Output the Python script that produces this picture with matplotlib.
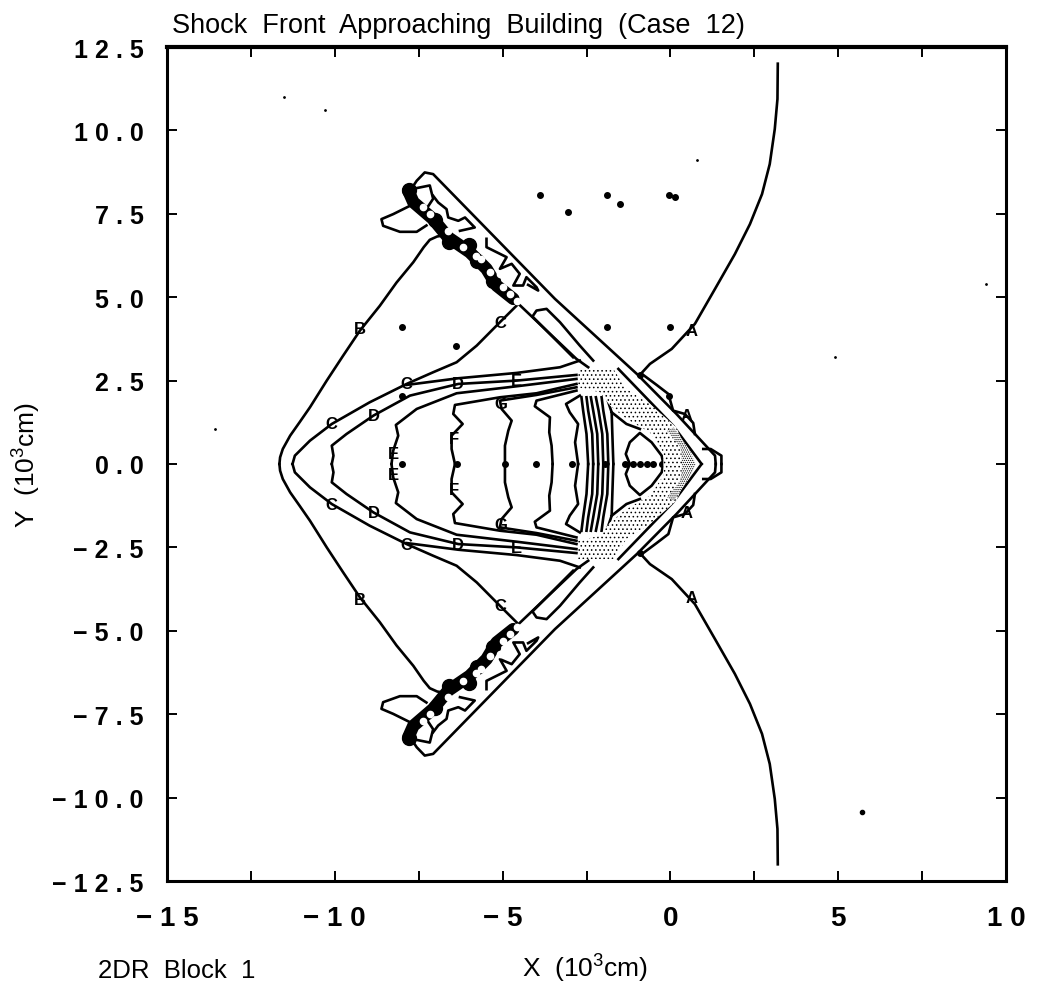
"""
Shock front contour plot, redrawn from a scanned report figure.
Only the upper half of each contour is listed, the lower half is its mirror.
"""

import matplotlib
matplotlib.use("Agg")
import matplotlib.pyplot as plt

plt.rcParams["font.family"] = ["Liberation Sans", "DejaVu Sans"]
plt.rcParams["mathtext.default"] = "regular"
plt.rcParams["hatch.linewidth"] = 0.6

# tick labels
x_tick_values = [-15, -12.5, -10, -7.5, -5, -2.5, 0, 2.5, 5, 7.5, 10]
x_tick_labels = ["\u2212 1 5", "", "\u2212 1 0", "", "\u2212 5", "", "0", "", "5", "", "1 0"]
y_tick_values = [12.5, 10, 7.5, 5, 2.5, 0, -2.5, -5, -7.5, -10, -12.5]
y_tick_labels = ["1 2 . 5", "1 0 . 0", "7 . 5", "5 . 0", "2 . 5", "0 . 0",
                 "\u2212 2 . 5", "\u2212 5 . 0", "\u2212 7 . 5", "\u2212 1 0 . 0", "\u2212 1 2 . 5"]

# contours, (x, y) in 10^3 cm
curve_a = [(3.2, 12.0), (3.19, 10.94), (3.11, 10.04), (2.96, 8.99), (2.73, 8.09), (2.37, 7.19),
           (1.92, 6.29), (1.33, 5.25), (0.73, 4.2), (0.04, 3.45), (-0.61, 3.0), (-0.91, 2.67)]
curve_b = [(-11.65, 0), (-11.63, 0.2), (-11.55, 0.45), (-11.33, 0.85), (-11.05, 1.25),
           (-10.74, 1.7), (-10.24, 2.5), (-9.75, 3.25), (-9.25, 4.0), (-8.66, 4.74),
           (-8.16, 5.44), (-7.66, 6.05), (-7.35, 6.5), (-7.17, 6.72), (-6.95, 6.82), (-6.77, 6.85)]
curve_c = [(-11.26, 0), (-11.19, 0.25), (-10.74, 0.7), (-10.09, 1.2), (-8.96, 1.85),
           (-7.86, 2.4), (-7.07, 2.75), (-6.37, 3.05), (-5.77, 3.55), (-5.08, 4.25),
           (-4.58, 4.75)]
curve_c2 = [(-7.86, 2.37), (-6.32, 2.57), (-4.58, 2.73), (-3.29, 2.9), (-2.7, 3.1)]
curve_d = [(-10.09, 0), (-10.04, 0.25), (-10.09, 0.55), (-9.65, 0.9), (-8.85, 1.45),
           (-7.76, 2.05), (-6.32, 2.4), (-4.58, 2.5), (-2.8, 2.67)]
curve_e = [(-8.31, 0), (-8.26, 0.4), (-8.11, 0.85), (-8.18, 1.17), (-7.56, 1.65),
           (-6.37, 2.12), (-4.58, 2.33), (-2.8, 2.55)]
curve_f = [(-6.42, 0), (-6.52, 0.45), (-6.52, 0.85), (-6.19, 1.2), (-6.47, 1.5),
           (-6.42, 1.77), (-5.08, 2.0), (-3.99, 2.12), (-2.8, 2.4)]
curve_g = [(-4.93, 0), (-4.93, 0.55), (-4.83, 1.0), (-4.73, 1.3), (-5.03, 1.65),
           (-5.08, 1.9), (-3.99, 2.07), (-2.8, 2.3)]
curve_h = [(-3.51, 0), (-3.54, 0.55), (-3.61, 0.95), (-3.59, 1.4), (-4.04, 1.73),
           (-3.99, 1.9), (-2.8, 2.2)]
curve_i = [(-2.75, 0), (-2.84, 0.65), (-2.75, 1.2), (-3.0, 1.55), (-3.11, 1.8), (-2.7, 2.05)]
curve_j1 = [(-2.45, 0), (-2.5, 0.9), (-2.6, 1.6), (-2.65, 2.0)]
curve_j2 = [(-2.3, 0), (-2.33, 0.9), (-2.45, 1.6), (-2.5, 2.0)]
curve_j3 = [(-2.15, 0), (-2.18, 0.9), (-2.3, 1.6), (-2.37, 2.0)]
curve_j4 = [(-2.0, 0), (-2.03, 0.9), (-2.14, 1.6), (-2.22, 2.0)]
curve_j5 = [(-1.85, 0), (-1.88, 0.9), (-2.0, 1.6), (-2.05, 2.0)]
curve_j6 = [(-1.7, 0), (-1.73, 0.9), (-1.75, 1.55), (-1.9, 2.0)]
lens = [(-1.21, 0), (-1.33, 0.3), (-1.21, 0.65), (-0.91, 0.93), (-0.56, 0.65),
        (-0.26, 0.25), (-0.21, 0)]
lobe = [(-1.75, 1.55), (-1.31, 1.2), (-0.91, 1.05)]
outer_wedge = [(-7.75, 8.2), (-7.56, 8.49), (-7.32, 8.74), (-7.07, 8.69), (-3.44, 4.95),
               (-1.0, 2.7), (0.18, 1.5), (1.33, 0.25), (1.35, 0)]
inner_wedge = [(-1.55, 2.85), (0.08, 1.15), (0.93, 0)]
right_wave = [(-0.81, 2.67), (-0.41, 2.37), (-0.06, 2.1), (0.08, 1.6), (0.43, 1.5),
              (0.68, 1.23), (0.73, 0.9)]
tip_wave = [(0.98, 0.45), (1.2, 0.45), (1.52, 0.25), (1.52, 0)]
shock_line_a = [(-4.58, 4.85), (-2.8, 3.15), (-2.45, 2.9)]
shock_line_b = [(-4.09, 4.4), (-2.9, 3.2)]
shock_line_c = [(-4.09, 4.45), (-3.99, 4.6), (-3.69, 4.65), (-3.29, 4.25), (-2.7, 3.55), (-2.3, 3.1)]
wave_1 = [(-7.07, 8.04), (-6.92, 7.84), (-6.67, 7.64), (-6.62, 7.39), (-6.32, 7.29),
          (-6.12, 7.39), (-5.83, 7.09), (-6.27, 6.99)]
wave_2 = [(-5.48, 6.75), (-5.48, 6.5), (-5.18, 6.35), (-4.88, 6.2), (-5.08, 5.85),
          (-4.73, 6.0), (-4.49, 5.7), (-4.68, 5.35), (-4.39, 5.35), (-4.29, 5.6),
          (-3.99, 5.3), (-3.94, 5.2), (-4.24, 5.37)]
swallow_tail = [(-7.76, 7.74), (-8.26, 7.49), (-8.61, 7.34), (-8.56, 7.14), (-8.06, 6.96),
                (-7.56, 6.96), (-7.27, 7.15)]
top_loop = [(-7.66, 8.25), (-7.17, 8.35), (-7.07, 7.95), (-7.3, 7.6)]

contours = [curve_a, curve_b, curve_c, curve_c2, curve_d, curve_e, curve_f, curve_g,
            curve_h, curve_i, curve_j1, curve_j2, curve_j3, curve_j4, curve_j5, curve_j6,
            lens, lobe, outer_wedge, inner_wedge, right_wave, tip_wave, shock_line_a,
            shock_line_b, shock_line_c, wave_1, wave_2, swallow_tail, top_loop]

# the dark chain of tight contours along the wedge, and the gaps left in it
shock_chain = [(-7.81, 8.19), (-7.66, 7.85), (-7.07, 7.34), (-6.62, 6.79), (-5.98, 6.35),
               (-5.48, 5.85), (-5.18, 5.35), (-4.68, 4.95)]
chain_blobs_x = [-7.8, -7.0, -6.0, -5.75, -5.3, -6.6]
chain_blobs_y = [8.2, 7.3, 6.55, 6.1, 5.5, 6.65]
chain_holes = [(-7.37, 7.69), (-7.17, 7.49), (-6.62, 6.99), (-6.17, 6.5), (-5.78, 6.25),
               (-5.63, 6.15), (-5.38, 5.75), (-5.08, 5.7), (-4.98, 5.3), (-4.78, 5.1),
               (-4.58, 4.9)]

# speckled region at the shock, and its denser edge
stipple_band = [(-2.75, 2.85), (-1.7, 2.85), (-1.31, 2.25), (-0.61, 1.8), (0.18, 1.1),
                (0.58, 0.15), (0.58, 0), (-0.21, 0), (-0.21, 0.35), (-0.61, 0.95),
                (-1.31, 1.35), (-1.8, 1.75), (-2.1, 2.15), (-2.75, 2.3)]
stipple_dark = [(0.1, 1.1), (0.58, 0.4), (0.75, 0.0), (0.35, 0.0), (0.3, 0.5), (-0.1, 1.0)]

# grid point markers, only on the upper half
dots_x = [-3.9, -3.05, -1.9, -1.5, -0.05, 0.15, -8.0, -6.4, -1.9, 0.0, -8.0, -0.05]
dots_y = [8.05, 7.55, 8.05, 7.8, 8.05, 8.0, 4.1, 3.55, 4.1, 4.1, 2.05, 2.05]
axis_dots_x = [-7.99, -6.37, -4.93, -4.0, -2.94, -1.95, -1.36, -1.1, -0.91, -0.71, -0.51, -0.26]
lone_dots_x = [5.7]
lone_dots_y = [-10.43]
specks_x = [-13.57, -11.5, -10.3, 0.8, 9.4, 4.9]
specks_y = [1.05, 11.0, 10.6, 9.1, 5.4, 3.2]

# contour letters, upper half
label_text = ["A", "A", "B", "C", "C", "C", "D", "D", "E", "E", "F", "G"]
label_x = [0.64, 0.48, -9.25, -10.09, -7.86, -5.08, -8.85, -6.32, -4.58, -8.26, -6.45, -5.05]
label_y = [4.0, 1.45, 4.05, 1.2, 2.4, 4.25, 1.45, 2.4, 2.5, 0.3, 0.75, 1.8]

fig = plt.figure(figsize=(10.39, 9.87), dpi=100)
ax = fig.add_axes([167 / 1039, 105 / 987, 839 / 1039, 834 / 987])
ax.set_xlim(-15, 10)
ax.set_ylim(-12.5, 12.5)

for sign in (1, -1):
    for curve in contours:
        ax.plot([p[0] for p in curve], [sign * p[1] for p in curve],
                color="black", lw=1.9, solid_joinstyle="round")

    ax.plot([p[0] for p in shock_chain], [sign * p[1] for p in shock_chain],
            color="black", lw=9, solid_capstyle="round", solid_joinstyle="round")
    ax.plot(chain_blobs_x, [sign * v for v in chain_blobs_y],
            ls="none", marker="o", ms=10, color="black")
    ax.plot([p[0] for p in chain_holes], [sign * p[1] for p in chain_holes],
            ls="none", marker="o", ms=4.5, color="white", zorder=2.5)

    ax.fill([p[0] for p in stipple_band], [sign * p[1] for p in stipple_band],
            facecolor="white", edgecolor="black", hatch="....", lw=0, zorder=3)
    ax.fill([p[0] for p in stipple_dark], [sign * p[1] for p in stipple_dark],
            facecolor="white", edgecolor="black", hatch="........", lw=0, zorder=3)

    ax.plot(-0.91, sign * 2.67, ls="none", marker="o", ms=4, color="black")

    for txt, lx, ly in zip(label_text, label_x, label_y):
        ax.text(lx, sign * ly, txt, fontsize=12, fontweight="bold", ha="center", va="center", zorder=4)

ax.plot(dots_x, dots_y, ls="none", marker="o", ms=4, color="black")
ax.plot(axis_dots_x, [0] * len(axis_dots_x), ls="none", marker="o", ms=4, color="black")
ax.plot(lone_dots_x, lone_dots_y, ls="none", marker="o", ms=3, color="black")
ax.plot(specks_x, specks_y, ls="none", marker="o", ms=1, color="black")

ax.set_xticks(x_tick_values)
ax.set_xticklabels(x_tick_labels, fontsize=20, fontweight="bold")
ax.set_yticks(y_tick_values)
ax.set_yticklabels(y_tick_labels, fontsize=18, fontweight="bold")
ax.tick_params(direction="in", length=7, width=1.4, top=True, right=True)
ax.tick_params(axis="x", pad=17)
ax.tick_params(axis="y", pad=17)
for spine in ax.spines.values():
    spine.set_linewidth(2.2)
ax.spines["top"].set_linewidth(3)

fig.text(172 / 1039, 1 - 33 / 987, "Shock  Front  Approaching  Building  (Case  12)", fontsize=19.5)
fig.text(585 / 1039, 1 - 978 / 987, r"X  ($10^3$cm)", fontsize=19, ha="center")
fig.text(98 / 1039, 1 - 978 / 987, "2DR  Block  1", fontsize=18.5)
fig.text(27 / 1039, 1 - 465 / 987, r"Y  ($10^3$cm)", fontsize=19, rotation=90, ha="center", va="center")

fig.savefig("out.png", dpi=100)
plt.close(fig)
